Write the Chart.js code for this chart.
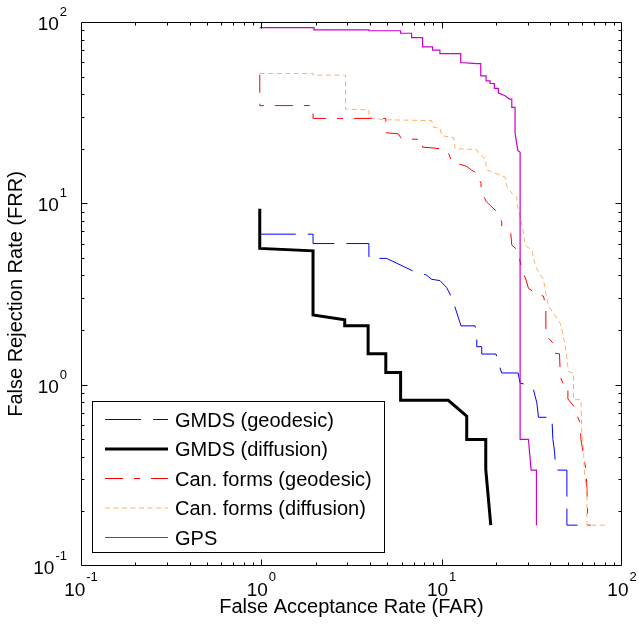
<!DOCTYPE html>
<html>
<head>
<meta charset="utf-8">
<script src="https://cdn.jsdelivr.net/npm/chart.js@4/dist/chart.umd.min.js"></script>
<style>
html,body{margin:0;padding:0;background:#fff;}
#wrap{width:639px;height:632px;}
</style>
</head>
<body>
<div id="wrap"><canvas id="c" width="639" height="632"></canvas></div>
<script>
// ---------- data ----------
const seriesLabels = ['GMDS (geodesic)', 'GMDS (diffusion)', 'Can. forms (geodesic)', 'Can. forms (diffusion)', 'GPS'];

const gmdsGeoFAR = [0.98,1.935,1.935,3.95,3.95,4.95,6.95,8.25,8.80,9.78,10.66,11.12,11.75,12.80,15.31,15.65,15.65,16.68,16.68,20.03,20.63,21.54,26.54,27.23,30.94,32.28,33.71,34.41,40.84,41.37,42.23,43.0,49.48,49.48,56.67];
const gmdsGeoFRR = [6.76,6.76,6.0,6.0,4.97,4.97,4.23,4.02,3.81,3.75,3.43,3.16,2.75,2.11,2.11,1.84,1.62,1.62,1.475,1.475,1.316,1.16,1.16,1.02,0.99,0.939,0.794,0.661,0.661,0.499,0.43,0.338,0.338,0.168,0.168];

const gmdsDifFAR = [0.98,0.98,1.935,1.935,2.90,2.90,3.91,3.91,4.90,4.90,5.92,5.92,10.88,13.77,13.77,17.56,17.56,18.72];
const gmdsDifFRR = [9.35,5.64,5.47,2.42,2.28,2.11,2.11,1.48,1.48,1.168,1.168,0.82,0.82,0.67,0.499,0.499,0.341,0.168];

const canGeoFAR = [0.98,0.98,1.935,1.935,4.90,4.90,5.74,5.99,7.84,7.84,8.98,9.78,10.88,11.36,13.77,14.68,15.65,15.65,16.53,16.53,17.63,18.55,20.37,21.54,21.54,24.17,24.48,26.10,28.40,29.39,30.27,34.41,36.68,37.82,37.82,39.10,42.61,42.61,45.02,45.42,45.42,47.80,50.12,50.12,54.33,55.24,58.66,59.19,63.10,63.92,64.41,64.41,67];
const canGeoFRR = [51.2,34.6,34.6,29.4,29.4,24.5,24.2,22.7,22.5,20.4,20.2,20.0,19.1,16.9,16.0,15.2,14.7,14.3,12.9,11.8,10.26,9.75,8.96,7.89,7.47,6.82,5.88,5.57,4.11,3.78,3.40,3.12,3.08,2.72,1.84,1.81,1.64,1.49,1.48,1.18,1.11,0.979,0.979,0.835,0.754,0.704,0.616,0.499,0.338,0.265,0.206,0.168,0.168];

const canDifFAR = [0.98,1.935,1.935,2.93,2.93,3.95,3.95,4.74,8.80,8.98,9.78,10.0,11.70,11.86,15.65,15.97,17.40,17.78,22.47,22.96,24.98,26.10,26.30,28.40,29.02,31.62,32.98,34.41,36.68,37.49,39.10,41.69,45.42,47.38,49.05,50.50,53.83,53.83,59.19,59.95,61.19,61.74,63.92,63.92,80.78];
const canDifFRR = [52.0,52.0,50.9,50.9,33.1,32.7,29.8,28.9,28.6,26.3,26.0,23.6,23.0,20.0,19.8,18.9,17.7,15.3,13.95,12.4,11.07,10.85,9.75,6.96,5.88,5.52,4.56,4.19,3.81,3.33,2.72,2.48,2.18,1.84,1.49,1.18,1.16,0.827,0.827,0.52,0.44,0.341,0.254,0.168,0.168];

const gpsFAR = [0.98,1.96,1.96,3.95,3.95,5.92,5.92,6.81,6.81,7.84,7.84,8.91,8.91,9.78,9.78,12.75,12.75,15.65,16.47,16.47,17.63,17.63,18.55,18.55,19.6,19.6,20.63,20.63,22.47,23.74,24.48,24.48,25.53,25.53,26.44,27.23,27.23,30.27,31.34,33.54,33.54];
const gpsFRR = [93,93,90.4,90.4,89.5,89.5,86.7,86.7,82,82,72.9,72.9,69.9,69.9,66.9,66.9,59.8,59.0,59.0,50.5,50.5,47.4,47.4,45.8,45.8,43,43,40.6,39.2,37.6,37.6,33.8,33.8,24.3,19.6,19.1,0.499,0.499,0.338,0.338,0.168];

const tickExponents = [-1, 0, 1, 2];
const xAxisTitle = 'False Acceptance Rate (FAR)';
const yAxisTitle = 'False Rejection Rate (FRR)';

// ---------- chart ----------
const FONT = "'Liberation Sans', Arial, Helvetica, sans-serif";
function pts(xs, ys) { return xs.map((x, i) => ({ x: x, y: ys[i] })); }

const styles = [
  { color: 'rgb(0,0,255)',     width: 1,   dash: [36, 12] },
  { color: 'rgb(0,0,0)',       width: 3,   dash: [] },
  { color: 'rgb(255,0,0)',     width: 1,   dash: [18, 11, 6, 11] },
  { color: 'rgb(255,175,100)', width: 1,   dash: [5, 3.5] },
  { color: 'rgb(204,0,204)',   width: 1.2, dash: [] }
];
const xsAll = [gmdsGeoFAR, gmdsDifFAR, canGeoFAR, canDifFAR, gpsFAR];
const ysAll = [gmdsGeoFRR, gmdsDifFRR, canGeoFRR, canDifFRR, gpsFRR];

const datasets = seriesLabels.map((lab, i) => ({
  label: lab,
  data: pts(xsAll[i], ysAll[i]),
  showLine: true,
  borderColor: styles[i].color,
  backgroundColor: styles[i].color,
  borderWidth: styles[i].width,
  borderDash: styles[i].dash,
  pointRadius: 0,
  pointHoverRadius: 0,
  tension: 0,
  fill: false,
  order: -i,
  borderCapStyle: 'butt',
  borderJoinStyle: 'miter'
}));

const axesPlugin = {
  id: 'matlabAxes',
  afterDraw(chart) {
    const ctx = chart.ctx;
    const ca = chart.chartArea;
    const xs = chart.scales.x, ys = chart.scales.y;
    const L = Math.round(ca.left) + 0.5, R = Math.round(ca.right) - 0.5;
    const T = Math.round(ca.top) + 0.5, B = Math.round(ca.bottom) - 0.5;
    ctx.save();
    ctx.strokeStyle = '#000';
    ctx.lineWidth = 1;
    ctx.setLineDash([]);
    ctx.beginPath();
    ctx.rect(L, T, R - L, B - T);
    ctx.stroke();
    // ticks (inside, all four sides)
    ctx.beginPath();
    for (let d = -1; d <= 2; d++) {
      for (let m = 1; m <= 9; m++) {
        const v = m * Math.pow(10, d);
        if (v > 100 + 1e-9) break;
        const len = (m === 1) ? 6 : 3;
        const px = Math.round(xs.getPixelForValue(v)) + 0.5;
        const py = Math.round(ys.getPixelForValue(v)) + 0.5;
        if (px > L && px < R) {
          ctx.moveTo(px, B); ctx.lineTo(px, B - len);
          ctx.moveTo(px, T); ctx.lineTo(px, T + len);
        }
        if (py > T && py < B) {
          ctx.moveTo(L, py); ctx.lineTo(L + len, py);
          ctx.moveTo(R, py); ctx.lineTo(R - len, py);
        }
      }
    }
    ctx.stroke();
    // tick labels: 10 with superscript exponent
    ctx.fillStyle = '#000';
    ctx.textBaseline = 'alphabetic';
    ctx.textAlign = 'left';
    const baseFont = '19px ' + FONT, expFont = '13px ' + FONT;
    tickExponents.forEach(e => {
      const v = Math.pow(10, e);
      const base = '10', exp = String(e);
      ctx.font = baseFont; const wb = ctx.measureText(base).width;
      ctx.font = expFont; const we = ctx.measureText(exp).width;
      const total = wb + 1 + we;
      const px = xs.getPixelForValue(v);
      let sx = px - total / 2;
      ctx.font = baseFont; ctx.fillText(base, sx, ca.bottom + 30);
      ctx.font = expFont; ctx.fillText(exp, sx + wb + 1, ca.bottom + 15);
      const py = ys.getPixelForValue(v);
      sx = 67 - total;
      ctx.font = baseFont; ctx.fillText(base, sx, py + 8);
      ctx.font = expFont; ctx.fillText(exp, sx + wb + 1, py - 6);
    });
    // legend
    const bx = 92.5, by = 401.5, bw = 292, bh = 151;
    ctx.fillStyle = '#fff';
    ctx.fillRect(bx, by, bw, bh);
    ctx.strokeStyle = '#000';
    ctx.lineWidth = 1;
    ctx.strokeRect(bx, by, bw, bh);
    ctx.font = '20px ' + FONT;
    chart.data.datasets.forEach((ds, i) => {
      const y = 419.5 + i * 29.5;
      ctx.save();
      ctx.strokeStyle = ds.borderColor;
      ctx.lineWidth = ds.borderWidth;
      ctx.setLineDash(ds.borderDash || []);
      ctx.lineCap = 'butt';
      ctx.beginPath();
      ctx.moveTo(105, y); ctx.lineTo(168, y);
      ctx.stroke();
      ctx.restore();
      ctx.fillStyle = '#000';
      ctx.fillText(ds.label, 175, y + 7);
    });
    ctx.restore();
  }
};

new Chart(document.getElementById('c'), {
  type: 'scatter',
  data: { datasets: datasets },
  options: {
    responsive: false,
    animation: false,
    devicePixelRatio: 1,
    layout: { padding: { top: 22, right: 17, left: 0, bottom: 0 } },
    plugins: { legend: { display: false }, tooltip: { enabled: false } },
    scales: {
      x: {
        type: 'logarithmic', min: 0.1, max: 100,
        grid: { display: false }, border: { display: false },
        ticks: { display: false },
        title: { display: true, text: xAxisTitle, color: '#000',
                 font: { family: FONT, size: 20 }, padding: { top: 0, bottom: 13 } },
        afterFit: s => { s.height = 66; }
      },
      y: {
        type: 'logarithmic', min: 0.1, max: 100,
        grid: { display: false }, border: { display: false },
        ticks: { display: false },
        title: { display: true, text: yAxisTitle, color: '#000',
                 font: { family: FONT, size: 20 }, padding: { top: 4, bottom: 0 } },
        afterFit: s => { s.width = 81; }
      }
    }
  },
  plugins: [axesPlugin]
});
</script>
</body>
</html>
